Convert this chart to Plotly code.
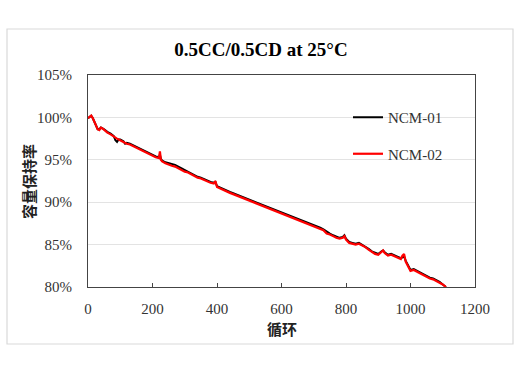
import plotly.graph_objects as go

cycles = [0, 5, 10, 15, 20, 25, 30, 35, 40, 45, 50, 60, 70, 80, 85, 90, 95, 100, 110, 115, 120, 130,
          140, 150, 160, 170, 180, 190, 200, 210, 220, 223, 226, 230, 240, 250, 260, 270, 280,
          290, 300, 310, 320, 330, 340, 350, 360, 370, 380, 390, 395, 400, 410, 420, 430, 440,
          450, 460, 470, 480, 490, 500, 510, 520, 530, 540, 550, 560, 570, 580, 590, 600, 610,
          620, 630, 640, 650, 660, 670, 680, 690, 700, 710, 720, 730, 740, 750, 760, 770, 780,
          790, 795, 800, 810, 820, 830, 840, 850, 860, 870, 880, 890, 900, 910, 915, 920, 930,
          940, 950, 960, 970, 975, 980, 985, 990, 1000, 1010, 1020, 1030, 1040, 1050, 1060,
          1070, 1080, 1090, 1100, 1110]

ncm02 = [99.9, 100.1, 100.2, 99.9, 99.4, 98.9, 98.6, 98.5, 98.8, 98.7, 98.5, 98.2, 98.0, 97.7, 97.6,
         97.5, 97.4, 97.3, 97.1, 97.0, 96.9, 96.8, 96.6, 96.4, 96.3, 96.1, 95.9, 95.7, 95.5, 95.3,
         95.2, 96.0, 95.0, 94.8, 94.6, 94.4, 94.3, 94.2, 94.0, 93.8, 93.6, 93.5, 93.3, 93.1, 92.9,
         92.8, 92.6, 92.4, 92.3, 92.2, 92.5, 91.8, 91.6, 91.4, 91.3, 91.1, 90.95, 90.8, 90.65,
         90.5, 90.35, 90.2, 90.05, 89.9, 89.75, 89.6, 89.45, 89.3, 89.15, 89.0, 88.85, 88.7,
         88.55, 88.4, 88.25, 88.1, 87.95, 87.8, 87.65, 87.5, 87.35, 87.2, 87.05, 86.9, 86.7,
         86.3, 86.2, 86.0, 85.8, 85.7, 85.8, 86.0, 85.6, 85.2, 85.1, 85.0, 85.1, 84.9, 84.7,
         84.4, 84.1, 83.9, 83.8, 84.2, 84.3, 84.0, 83.7, 83.8, 83.6, 83.5, 83.3, 83.7, 83.9,
         83.0, 82.6, 81.9, 82.0, 81.8, 81.6, 81.4, 81.2, 81.0, 80.9, 80.7, 80.5, 80.3, 80.0]

ncm01 = [99.9, 100.1, 100.2, 99.9, 99.4, 98.9, 98.6, 98.6, 98.8, 98.7, 98.6, 98.3, 98.1, 97.8, 97.3,
         97.1, 97.4, 97.4, 97.2, 96.9, 97.0, 96.9, 96.7, 96.5, 96.4, 96.2, 96.0, 95.8, 95.6, 95.4,
         95.3, 95.6, 95.1, 94.9, 94.7, 94.6, 94.5, 94.4, 94.2, 94.0, 93.8, 93.6, 93.4, 93.2, 93.0,
         92.9, 92.7, 92.5, 92.4, 92.3, 92.4, 91.9, 91.7, 91.5, 91.4, 91.2, 91.05, 90.9, 90.75,
         90.6, 90.45, 90.3, 90.15, 90.0, 89.85, 89.7, 89.55, 89.4, 89.25, 89.1, 88.95, 88.8,
         88.65, 88.5, 88.35, 88.2, 88.05, 87.9, 87.75, 87.6, 87.45, 87.3, 87.2, 87.0, 86.8,
         86.5, 86.3, 86.1, 85.9, 85.8, 85.9, 86.1, 85.7, 85.3, 85.2, 85.1, 85.2, 85.0, 84.8,
         84.5, 84.2, 84.0, 83.9, 84.2, 84.3, 84.1, 83.8, 83.9, 83.7, 83.6, 83.4, 83.5, 83.6,
         83.1, 82.7, 82.0, 82.1, 81.9, 81.7, 81.5, 81.3, 81.1, 81.0, 80.8, 80.6, 80.3, 80.0]

x_ticks = [0, 200, 400, 600, 800, 1000, 1200]
y_ticks = [80, 85, 90, 95, 100, 105]
y_labels = ["80%", "85%", "90%", "95%", "100%", "105%"]

serif = "Liberation Serif"
cjk = "Noto Sans CJK SC"

fig = go.Figure()
fig.add_trace(go.Scatter(x=cycles, y=ncm01, mode="lines", name="NCM-01",
                         line=dict(color="#000000", width=2), legendgroup="a"))
fig.add_trace(go.Scatter(x=cycles, y=ncm02, mode="lines", name="NCM-02",
                         line=dict(color="#ff0000", width=2.2), legendgroup="b"))

W, H = 524, 373
L, R, T, B = 88, 475, 75, 287
pw, ph = R - L, B - T

fig.update_layout(
    width=W, height=H,
    margin=dict(l=L, r=W - R, t=T, b=H - B),
    paper_bgcolor="white", plot_bgcolor="white",
    title=dict(text="<b>0.5CC/0.5CD at 25°C</b>", x=261 / W, xref="container", xanchor="center",
               y=1 - 49 / H, yref="container", yanchor="middle",
               font=dict(family=serif, size=19, color="#000")),
    showlegend=True,
    legend=dict(x=(348 - L) / pw, y=(B - 101) / ph, xanchor="left", yanchor="top",
                font=dict(family=serif, size=15, color="#333"),
                tracegroupgap=14, itemwidth=30, bgcolor="rgba(0,0,0,0)"),
    xaxis=dict(range=[0, 1200], tickvals=x_ticks, ticks="inside", ticklen=4,
               tickcolor="#444", showline=True, linecolor="#444", linewidth=1.2, mirror=True,
               showgrid=False, zeroline=False, ticklabelstandoff=8,
               tickfont=dict(family=serif, size=15, color="#333")),
    yaxis=dict(range=[80, 105], tickvals=y_ticks, ticktext=y_labels, ticks="",
               showline=True, linecolor="#444", linewidth=1.2, mirror=True,
               showgrid=True, gridcolor="#e3e3e3", gridwidth=1, zeroline=False,
               ticklabelstandoff=12,
               tickfont=dict(family=serif, size=15, color="#333")),
    shapes=[dict(type="rect", xref="paper", yref="paper",
                 x0=(7 - L) / pw, x1=(513 - L) / pw, y0=(B - 344) / ph, y1=(B - 29) / ph,
                 line=dict(color="#d9d9d9", width=1.2), layer="below")],
    annotations=[
        dict(text="<b>循环</b>", xref="paper", yref="paper", x=0.5, y=(B - 328) / ph,
             showarrow=False, font=dict(family=cjk, size=15, color="#222"),
             xanchor="center", yanchor="middle"),
        dict(text="<b>容量保持率</b>", xref="paper", yref="paper", x=(28 - L) / pw,
             y=(B - 182) / ph, showarrow=False, textangle=-90,
             font=dict(family=cjk, size=15, color="#222"),
             xanchor="center", yanchor="middle"),
    ],
)

fig.write_html("out.html", config={"displayModeBar": False},
               post_script="document.body.style.margin='0';document.body.style.overflow='hidden';")
